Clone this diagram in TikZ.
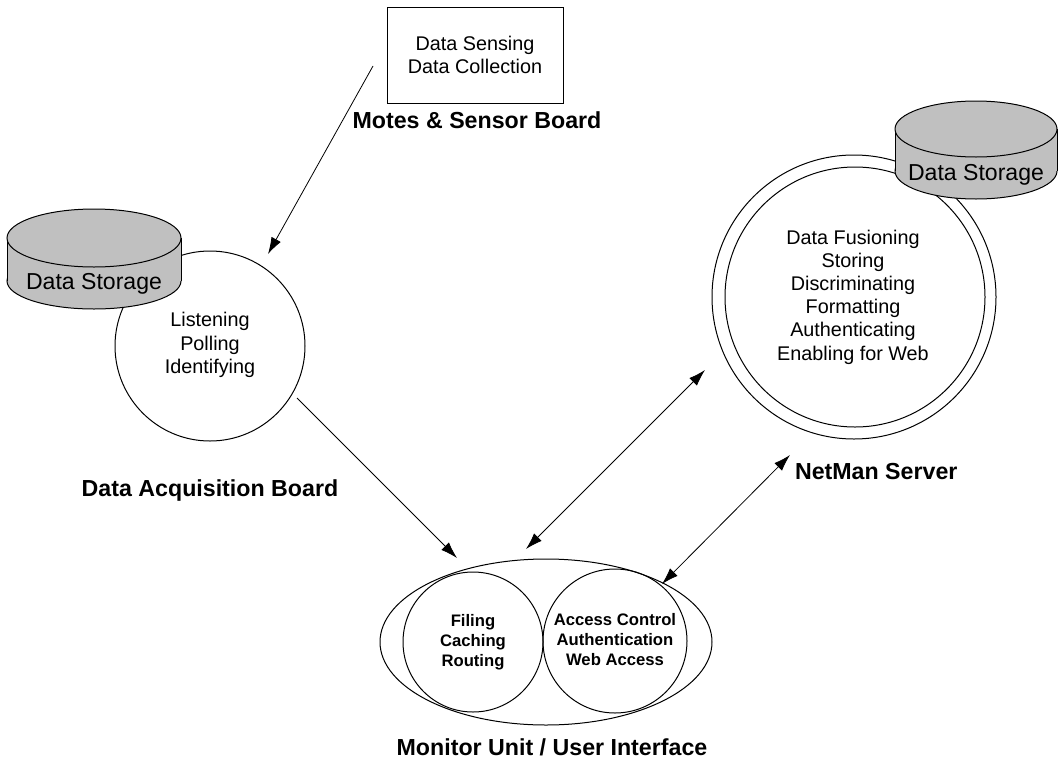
\documentclass[tikz,border=0pt]{standalone}
\usepackage{fontspec}
\setmainfont{Liberation Sans}
\usetikzlibrary{arrows.meta,shapes.geometric}
\definecolor{storegray}{HTML}{C0C0C0}
\tikzset{
  every node/.style={inner sep=0pt, outer sep=0pt},
  bodytxt/.style={font=\fontsize{14.85}{17.4}\selectfont, align=center},
  boldlabel/.style={font=\fontsize{17.4}{20}\selectfont\bfseries, anchor=base},
  smalltxt/.style={font=\fontsize{12.5}{15}\selectfont\bfseries, align=center},
  storetxt/.style={font=\fontsize{17.3}{20}\selectfont},
  outline/.style={draw=black, line width=0.75pt},
  conn/.style={draw=black, line width=0.6pt, -{Latex[length=12.5pt,width=8pt]}},
  dconn/.style={draw=black, line width=0.6pt, {Latex[length=12.5pt,width=8pt]}-{Latex[length=12.5pt,width=8pt]}},
}
\begin{document}
\begin{tikzpicture}[x=0.75pt, y=-0.75pt]
\useasboundingbox (0,0) rectangle (1060,764);

% Motes & sensor board
\node[outline, rectangle, minimum width=132pt, minimum height=72pt] (ms) at (475,55) {};
\node[bodytxt] (mstxt) at (475,55) {Data Sensing\\Data Collection};
\node[boldlabel] (mslbl) at (477,128) {Motes \& Sensor Board};

% Data acquisition board
\node[outline, circle, minimum size=142.5pt] (lc) at (210,346) {};
\node[bodytxt] (lctxt) at (210,345) {Listening\\Polling\\Identifying};
\node[boldlabel] (lclbl) at (210,496) {Data Acquisition Board};
% left cylinder
\node[outline, ellipse, fill=storegray, minimum width=130.5pt, minimum height=42pt] (lsb) at (94,281) {};
\fill[storegray] (7,238) rectangle (181,281);
\draw[line width=0.75pt] (7,238) -- (7,281) (181,238) -- (181,281);
\node[outline, ellipse, fill=storegray, minimum width=130.5pt, minimum height=43.5pt] (lst) at (94,238) {};
\node[storetxt] (lstxt) at (94,284) {Data Storage};

% NetMan server
\node[outline, circle, minimum size=213pt] (rco) at (854,297) {};
\node[outline, circle, minimum size=195pt] (rci) at (855,297) {};
\node[bodytxt] (rctxt) at (853,297) {Data Fusioning\\Storing\\Discriminating\\Formatting\\Authenticating\\Enabling for Web};
\node[boldlabel, anchor=base west] (rclbl) at (795,479) {NetMan Server};
% right cylinder
\node[outline, ellipse, fill=storegray, minimum width=121.5pt, minimum height=42pt] (rsb) at (976,171) {};
\fill[storegray] (895,129) rectangle (1057,171);
\draw[line width=0.75pt] (895,129) -- (895,171) (1057,129) -- (1057,171);
\node[outline, ellipse, fill=storegray, minimum width=121.5pt, minimum height=42pt] (rst) at (976,129) {};
\node[storetxt] (rstxt) at (976,175) {Data Storage};

% Monitor unit
\node[outline, ellipse, minimum width=249pt, minimum height=124.5pt] (mu) at (546,642) {};
\node[outline, circle, minimum size=105pt] (mul) at (473,642) {};
\node[outline, circle, minimum size=108pt] (mur) at (615,641) {};
\node[smalltxt] (multxt) at (473,642) {Filing\\Caching\\Routing};
\node[smalltxt] (murtxt) at (615,640) {Access Control\\Authentication\\Web Access};
\node[boldlabel] (mulbl) at (552,755) {Monitor Unit / User Interface};

% connectors
\coordinate (a1s) at (373,66);  \coordinate (a1e) at (268,254);
\coordinate (a2s) at (297,398); \coordinate (a2e) at (457,558);
\coordinate (a3s) at (526,549); \coordinate (a3e) at (705,370);
\coordinate (a4s) at (662,584); \coordinate (a4e) at (790,455);
\draw[conn] (a1s) -- (a1e);
\draw[conn] (a2s) -- (a2e);
\draw[dconn] (a3s) -- (a3e);
\draw[dconn] (a4s) -- (a4e);
\end{tikzpicture}
\end{document}
